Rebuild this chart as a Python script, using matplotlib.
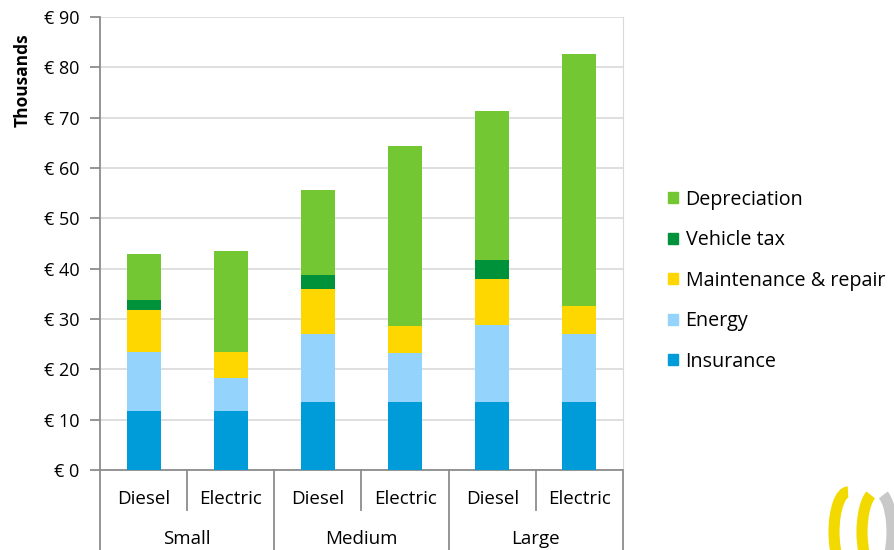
import matplotlib
matplotlib.use('Agg')
import matplotlib.pyplot as plt
from matplotlib import font_manager
from matplotlib.patches import Patch, Arc
from matplotlib.ticker import FuncFormatter, MultipleLocator
import matplotlib.transforms as mtransforms

# data (thousands of euro)
sizes = ['Small', 'Medium', 'Large']
fuels = ['Diesel', 'Electric']
insurance = [11.7, 11.7, 13.6, 13.6, 13.6, 13.6]
energy = [11.7, 6.5, 13.5, 9.6, 15.2, 13.4]
maintenance = [8.4, 5.2, 8.9, 5.5, 9.2, 5.6]
vehicle_tax = [1.9, 0.0, 2.7, 0.0, 3.7, 0.0]
depreciation = [9.2, 20.1, 17.0, 35.6, 29.6, 50.1]

series = [
    ('Insurance', insurance, '#009bd9'),
    ('Energy', energy, '#93d3fc'),
    ('Maintenance & repair', maintenance, '#ffd700'),
    ('Vehicle tax', vehicle_tax, '#00923a'),
    ('Depreciation', depreciation, '#72c732'),
]

names = {f.name for f in font_manager.fontManager.ttflist}
catfont = 'Liberation Sans Narrow' if 'Liberation Sans Narrow' in names else 'Open Sans'
tickfont = 'Open Sans'

fig = plt.figure(figsize=(8.94, 5.5), dpi=100)
ax = fig.add_axes([100/894, 80/550, 523/894, 453/550])

x = list(range(len(insurance)))
bottom = [0.0]*len(x)
for name, vals, col in series:
    ax.bar(x, vals, 0.39, bottom=bottom, color=col, zorder=3)
    bottom = [b + v for b, v in zip(bottom, vals)]

ax.set_xlim(-0.5, len(x) - 0.5)
ax.set_ylim(0, 90)
ax.yaxis.set_major_locator(MultipleLocator(10))
ax.yaxis.set_major_formatter(FuncFormatter(lambda v, p: '€ %d' % v))
ax.grid(axis='y', color='#dcdcdc', lw=1.3, zorder=0)
ax.set_xticks([])
ax.spines['top'].set_visible(False)
ax.spines['right'].set_color('#d9d9d9')
ax.spines['left'].set_color('#8c8c8c')
ax.spines['bottom'].set_color('#8c8c8c')
ax.spines['left'].set_linewidth(1.3)
ax.spines['bottom'].set_linewidth(1.3)
ax.tick_params(axis='y', length=7, width=1.3, color='#8c8c8c', pad=8,
               labelsize=13)
for lab in ax.get_yticklabels():
    lab.set_family(tickfont)
ax.set_ylabel('Thousands', fontsize=12.5, fontweight='bold', family=tickfont)
ax.yaxis.set_label_coords(-0.13, 0.86)

# two-level category axis
trans = mtransforms.blended_transform_factory(ax.transData, ax.transAxes)
px = 1.0 / 453
for i in x:
    ax.text(i, -29*px, fuels[i % 2], transform=trans, ha='center', va='center',
            fontsize=13.5, family=catfont)
for g, name in enumerate(sizes):
    ax.text(2*g + 0.5, -69*px, name, transform=trans, ha='center', va='center',
            fontsize=13.5, family=catfont)
for k in range(len(x) + 1):
    xv = k - 0.5
    y0 = -80*px if k % 2 == 0 else -40*px
    ax.plot([xv, xv], [0, y0], transform=trans, color='#8c8c8c', lw=1.3,
            clip_on=False)

# legend
handles = [Patch(color=c, label=n) for n, v, c in series[::-1]]
fig.legend(handles=handles, loc='upper left',
           bbox_to_anchor=(650/894, (550-172)/550), frameon=False,
           prop={'family': catfont, 'size': 14.2}, handlelength=0.5,
           handleheight=0.5, handletextpad=0.4, labelspacing=1.04)

# logo rings
for cx, col, t1, t2, z in [(878, '#c8c8c8', -70, 85, 1),
                           (848, '#f2d900', 90, 270, 2),
                           (876, '#f2d900', 95, 265, 2)]:
    arc = Arc((cx/894, (550-532)/550), 28/894, 80/550, theta1=t1,
              theta2=t2, lw=8, color=col, transform=fig.transFigure, zorder=z)
    fig.add_artist(arc)

fig.savefig('out.png', dpi=100)
